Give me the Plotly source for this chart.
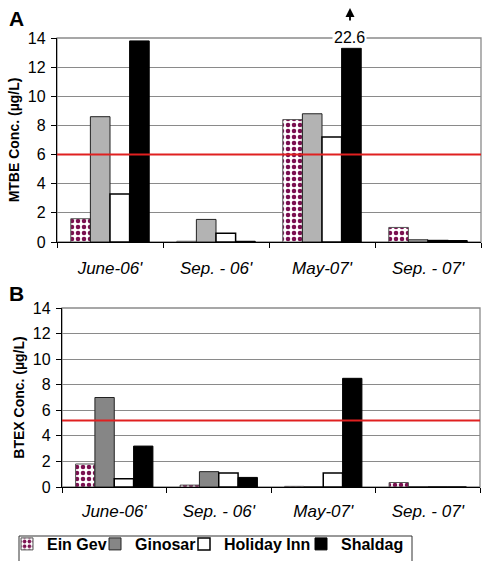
import plotly.graph_objects as go

categories = ["June-06'", "Sep. - 06'", "May-07'", "Sep. - 07'"]
series = ["Ein Gev", "Ginosar", "Holiday Inn", "Shaldag"]

# Panel A: MTBE (ug/L); Shaldag May-07 is 22.6 but drawn broken at ~13.3
mtbe_ein_gev = [1.6, 0.05, 8.4, 1.0]
mtbe_ginosar = [8.6, 1.55, 8.8, 0.15]
mtbe_holiday = [3.3, 0.6, 7.2, 0.1]
mtbe_shaldag = [13.8, 0.05, 13.3, 0.1]
mtbe_break_label = "22.6"
mtbe_limit = 6

# Panel B: BTEX (ug/L)
btex_ein_gev = [1.8, 0.15, 0.05, 0.35]
btex_ginosar = [7.0, 1.2, 0.0, 0.0]
btex_holiday = [0.65, 1.1, 1.1, 0.0]
btex_shaldag = [3.2, 0.75, 8.5, 0.0]
btex_limit = 5.2

y_ticks = [0, 2, 4, 6, 8, 10, 12, 14]

FONT = "Arial, Liberation Sans, sans-serif"
dot_color = "#7a1050"

fig = go.Figure()

def add_group(xa, ya, vals, ginosar_color, showlegend):
    ein, gin, hol, sha = vals
    fig.add_trace(go.Bar(x=categories, y=ein, name=series[0], xaxis=xa, yaxis=ya,
                         marker=dict(color="white", line=dict(color="#555", width=1),
                                     pattern=dict(shape=".", fgcolor=dot_color, bgcolor="white",
                                                  size=6, solidity=0.45, fgopacity=1)),
                         showlegend=showlegend, legend="legend"))
    fig.add_trace(go.Bar(x=categories, y=gin, name=series[1], xaxis=xa, yaxis=ya,
                         marker=dict(color=ginosar_color, line=dict(color="#222", width=1)),
                         showlegend=showlegend, legend="legend2"))
    fig.add_trace(go.Bar(x=categories, y=hol, name=series[2], xaxis=xa, yaxis=ya,
                         marker=dict(color="white", line=dict(color="black", width=1.5)),
                         showlegend=showlegend, legend="legend3"))
    fig.add_trace(go.Bar(x=categories, y=sha, name=series[3], xaxis=xa, yaxis=ya,
                         marker=dict(color="black", line=dict(color="black", width=1)),
                         showlegend=showlegend, legend="legend4"))

add_group("x", "y", (mtbe_ein_gev, mtbe_ginosar, mtbe_holiday, mtbe_shaldag), "#b3b3b3", False)
add_group("x2", "y2", (btex_ein_gev, btex_ginosar, btex_holiday, btex_shaldag), "#868686", True)

W, H = 487, 561
def px_x(p): return p / W
def px_y(p): return 1 - p / H

axis_common = dict(
    showgrid=True, gridcolor="#8a8a8a", gridwidth=1.3,
    range=[0, 14], tickvals=y_ticks, ticks="outside", ticklen=5, tickcolor="black",
    showline=True, linecolor="black", linewidth=1.3, zeroline=False,
    tickfont=dict(family=FONT, size=16, color="black"), ticklabelstandoff=2,
)
xaxis_common = dict(
    type="category", tickson="boundaries", ticks="outside", ticklen=5, tickcolor="black",
    showline=True, linecolor="black", linewidth=1.3, showgrid=False, zeroline=False,
    tickfont=dict(family=FONT, size=17, color="black", style="italic"),
)

def legend_at(px_left):
    return dict(orientation="h", x=px_x(px_left), y=0, xanchor="left", yanchor="bottom",
                borderwidth=0, bgcolor="rgba(0,0,0,0)", itemwidth=30,
                font=dict(family=FONT, size=16, color="black", weight="bold"))

fig.update_layout(
    template="none",
    width=W, height=H,
    margin=dict(l=0, r=0, t=0, b=0),
    paper_bgcolor="white", plot_bgcolor="white",
    barmode="group", bargap=0.26, bargroupgap=0,
    xaxis=dict(domain=[px_x(57), px_x(481)], anchor="y", ticklabelstandoff=10, **xaxis_common),
    yaxis=dict(domain=[px_y(242), px_y(38)], anchor="x",
               title=dict(text="<b>MTBE Conc. (µg/L)</b>", font=dict(family=FONT, size=14, color="black"), standoff=4),
               **axis_common),
    xaxis2=dict(domain=[px_x(62), px_x(480)], anchor="y2", ticklabelstandoff=8, **xaxis_common),
    yaxis2=dict(domain=[px_y(487), px_y(308)], anchor="x2",
                title=dict(text="<b>BTEX Conc. (µg/L)</b>", font=dict(family=FONT, size=14, color="black"), standoff=4),
                **axis_common),
    legend=legend_at(7),
    legend2=legend_at(95),
    legend3=legend_at(184),
    legend4=legend_at(301),
    showlegend=True,
)

shapes = []
for xa, ya, lim in (("x", "y", mtbe_limit), ("x2", "y2", btex_limit)):
    shapes.append(dict(type="rect", xref=f"{xa} domain", yref=f"{ya} domain", x0=0, x1=1, y0=0, y1=1,
                       line=dict(color="#8a8a8a", width=1.3), layer="below"))
    shapes.append(dict(type="line", xref=f"{xa} domain", yref=ya, x0=0, x1=1, y0=lim, y1=lim,
                       line=dict(color="#e02020", width=2)))
# legend frame
shapes.append(dict(type="rect", xref="paper", yref="paper", x0=px_x(19), x1=px_x(412),
                   y0=px_y(570), y1=px_y(536), line=dict(color="#333", width=1), layer="below"))
fig.update_layout(shapes=shapes)

annotations = [
    dict(text="<b>A</b>", x=px_x(7), y=px_y(19), xref="paper", yref="paper", xanchor="left",
         yanchor="middle", showarrow=False, font=dict(family=FONT, size=21, color="black")),
    dict(text="<b>B</b>", x=px_x(7), y=px_y(293), xref="paper", yref="paper", xanchor="left",
         yanchor="middle", showarrow=False, font=dict(family=FONT, size=21, color="black")),
    dict(text=mtbe_break_label, x=categories[2], y=14, xref="x", yref="y", xshift=27, yshift=1,
         showarrow=False, bgcolor="white", font=dict(family=FONT, size=16, color="black"),
         borderpad=1),
    dict(text="", x=categories[2], y=14, xref="x", yref="y", xshift=28, yshift=30,
         showarrow=True, ax=0, ay=14, arrowhead=2, arrowsize=1.0, arrowwidth=1.8, arrowcolor="black"),
]
fig.update_layout(annotations=annotations)

fig.write_html("out.html")
